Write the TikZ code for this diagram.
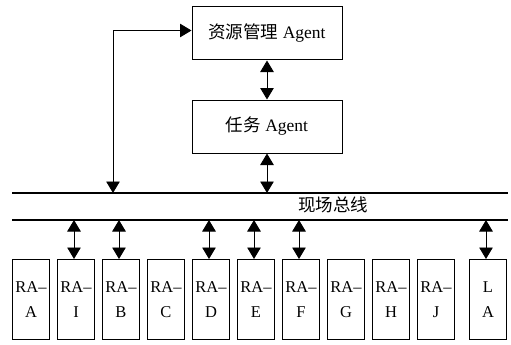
\documentclass[tikz,border=0pt]{standalone}
\usepackage{fontspec}
\setmainfont{Liberation Serif}
\newfontfamily\cjk{Noto Sans CJK SC}
\usetikzlibrary{arrows.meta}
\begin{document}
\begin{tikzpicture}[x=1pt,y=-1pt,
  box/.style={draw,line width=1pt,minimum width=150pt,minimum height=53pt,inner sep=0pt,font=\fontsize{17.5}{20}\selectfont},
  rabox/.style={draw,line width=1pt,minimum width=37pt,minimum height=80pt,inner sep=0pt,align=center,font=\fontsize{16.5}{25}\selectfont,anchor=north west},
  bus/.style={line width=1.1pt},
  conn/.style={line width=0.9pt,{Triangle[length=11.5pt,width=13.5pt]}-{Triangle[length=11.5pt,width=13.5pt]}}
]
\useasboundingbox (0,0) rectangle (511,345);
\node[box] (rm) at (267,33.5) {{\cjk 资源管理} Agent};
\node[box] (task) at (267,126.5) {{\cjk 任务} Agent};
\coordinate (b1l) at (12,193);
\coordinate (b1r) at (508,193);
\coordinate (b2l) at (12,220);
\coordinate (b2r) at (508,220);
\draw[bus] (b1l) -- (b1r);
\draw[bus] (b2l) -- (b2r);
\node[font=\cjk\fontsize{17.5}{20}\selectfont] (fb) at (333,205) {现场总线};
\coordinate (lt) at (113,193);
\coordinate (tb) at (267,193);
\draw[conn] (rm) -- (task);
\draw[conn] (task) -- (tb);
\draw[conn] (lt) |- ([yshift=3pt]rm.west);
\node[rabox] (ra) at (12,259) {RA–\\A};
\node[rabox] (ri) at (57,259) {RA–\\I};
\node[rabox] (rb) at (102,259) {RA–\\B};
\node[rabox] (rc) at (147,259) {RA–\\C};
\node[rabox] (rd) at (192,259) {RA–\\D};
\node[rabox] (re) at (237,259) {RA–\\E};
\node[rabox] (rf) at (282,259) {RA–\\F};
\node[rabox] (rg) at (327,259) {RA–\\G};
\node[rabox] (rh) at (372,259) {RA–\\H};
\node[rabox] (rj) at (417,259) {RA–\\J};
\node[rabox] (la) at (469,259) {L\\A};
\foreach \n in {ri,rb,rd,re,rf,la}{
  \draw[conn] ([xshift=-2pt]\n.north |- b2l) -- ([xshift=-2pt]\n.north);
}
\end{tikzpicture}
\end{document}
